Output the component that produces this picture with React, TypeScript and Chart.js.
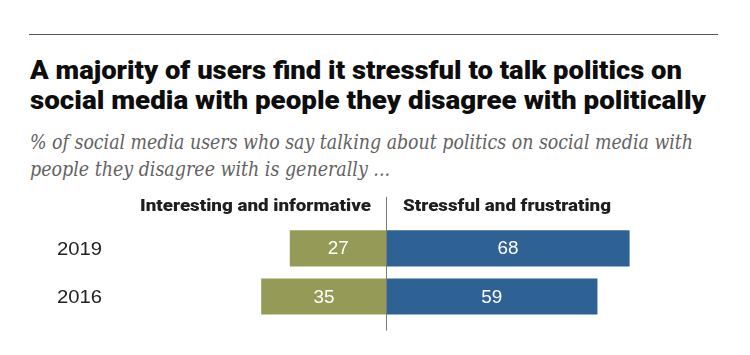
import React, { useEffect, useLayoutEffect, useRef } from "react";
import { Chart, registerables } from "chart.js";

Chart.register(...registerables);

// ---- data ----
const categories = ["2019", "2016"];
const interesting = [27, 35];
const stressful = [68, 59];
const headerLabels = ["Interesting and informative", "Stressful and frustrating"];
const titleLines = [
  "A majority of users find it stressful to talk politics on",
  "social media with people they disagree with politically",
];
const subtitleLines = [
  "% of social media users who say talking about politics on social media with",
  "people they disagree with is generally ...",
];

const GREEN = "#959b56";
const BLUE = "#2e6294";

function FitLine(props: { text: string; left: number; top: number; width: number; style: React.CSSProperties }) {
  const ref = useRef<HTMLDivElement>(null);
  useLayoutEffect(() => {
    const fit = () => {
      const el = ref.current;
      if (!el) return;
      el.style.transform = "none";
      const w = el.getBoundingClientRect().width;
      if (w > 0) el.style.transform = `scaleX(${props.width / w})`;
    };
    fit();
    (document as any).fonts?.ready?.then(fit);
  }, [props.text, props.width]);
  return (
    <div
      ref={ref}
      style={{
        position: "absolute",
        left: props.left,
        top: props.top,
        whiteSpace: "nowrap",
        transformOrigin: "0 0",
        display: "inline-block",
        ...props.style,
      }}
    >
      {props.text}
    </div>
  );
}

function fitText(ctx: CanvasRenderingContext2D, text: string, x: number, y: number, width: number, align: "left" | "right") {
  const w = ctx.measureText(text).width;
  const s = width / w;
  ctx.save();
  ctx.translate(align === "left" ? x : x - width, y);
  ctx.scale(s, 1);
  ctx.textAlign = "left";
  ctx.fillText(text, 0, 0);
  ctx.restore();
}

const overlay = {
  id: "overlay",
  afterDatasetsDraw(chart: any) {
    const ctx: CanvasRenderingContext2D = chart.ctx;
    const xs = chart.scales.x;
    const ys = chart.scales.y;
    const area = chart.chartArea;
    const x0 = xs.getPixelForValue(0);

    // value labels
    ctx.save();
    ctx.fillStyle = "#ffffff";
    ctx.font = '18px "Liberation Sans", Arial, sans-serif';
    ctx.textAlign = "center";
    ctx.textBaseline = "alphabetic";
    chart.data.datasets.forEach((ds: any, di: number) => {
      const meta = chart.getDatasetMeta(di);
      meta.data.forEach((bar: any, i: number) => {
        const p = bar.getProps(["x", "base", "y"], true);
        const t = String(Math.abs(ds.data[i]));
        const cx = (p.x + p.base) / 2;
        const w = ctx.measureText(t).width;
        ctx.save();
        ctx.translate(cx, p.y + 6);
        ctx.scale(21 / w, 1);
        ctx.fillText(t, 0, 0);
        ctx.restore();
      });
    });
    ctx.restore();

    // category labels
    ctx.save();
    ctx.fillStyle = "#222222";
    ctx.font = '17.5px "Liberation Sans", Arial, sans-serif';
    ctx.textAlign = "left";
    ctx.textBaseline = "alphabetic";
    categories.forEach((c, i) => {
      fitText(ctx, c, area.left + 27.5, ys.getPixelForValue(i) + 6.5, 45, "left");
    });
    ctx.restore();

    // center line
    ctx.save();
    ctx.strokeStyle = "#7a7a7a";
    ctx.lineWidth = 1;
    ctx.beginPath();
    ctx.moveTo(Math.floor(x0) + 0.5, area.top - 27.5);
    ctx.lineTo(Math.floor(x0) + 0.5, area.bottom + 10);
    ctx.stroke();
    ctx.restore();

    // headers
    ctx.save();
    ctx.fillStyle = "#1e1e1e";
    ctx.font = '900 16px Roboto';
    ctx.textBaseline = "alphabetic";
    fitText(ctx, headerLabels[0], x0 - 15.5, area.top - 13.3, 231, "right");
    fitText(ctx, headerLabels[1], x0 + 16.5, area.top - 13.3, 208, "left");
    ctx.restore();
  },
};

export default function App() {
  const canvasRef = useRef<HTMLCanvasElement>(null);

  useEffect(() => {
    document.body.style.margin = "0";
    const chart = new Chart(canvasRef.current!, {
      type: "bar",
      data: {
        labels: categories,
        datasets: [
          { label: headerLabels[0], data: interesting.map((v) => -v), backgroundColor: GREEN, barThickness: 35.5 },
          { label: headerLabels[1], data: stressful, backgroundColor: BLUE, barThickness: 35.5 },
        ],
      },
      options: {
        indexAxis: "y",
        animation: false,
        responsive: false,
        devicePixelRatio: 1,
        layout: { padding: { left: 29.5, right: 6.5, top: 224.3, bottom: 34.4 } },
        scales: {
          x: { stacked: true, min: -100, max: 100, display: false },
          y: { stacked: true, display: false },
        },
        plugins: {
          legend: { display: false },
          tooltip: { enabled: false },
          title: { display: false },
        },
      },
      plugins: [overlay],
    });
    return () => chart.destroy();
  }, []);

  const titleStyle: React.CSSProperties = { fontFamily: "Roboto", fontWeight: 900, fontSize: 25.5, lineHeight: "25.5px", color: "#0d0d0d" };
  const subStyle: React.CSSProperties = { fontFamily: "DejaVu Serif", fontStyle: "italic", fontSize: 19.5, lineHeight: "19.5px", color: "#626262" };

  return (
    <div style={{ position: "absolute", left: 0, top: 0, width: 750, height: 355, background: "#fff", overflow: "hidden" }}>
      <div style={{ position: "absolute", left: 29, top: 33.5, width: 689, height: 1.5, background: "#555" }} />
      <FitLine text={titleLines[0]} left={29.5} top={58.2} width={652} style={titleStyle} />
      <FitLine text={titleLines[1]} left={30} top={88.2} width={676} style={titleStyle} />
      <FitLine text={subtitleLines[0]} left={30} top={132.5} width={663} style={subStyle} />
      <FitLine text={subtitleLines[1]} left={30} top={160} width={360} style={subStyle} />
      <canvas ref={canvasRef} width={750} height={355} style={{ position: "absolute", left: 0, top: 0 }} />
    </div>
  );
}
